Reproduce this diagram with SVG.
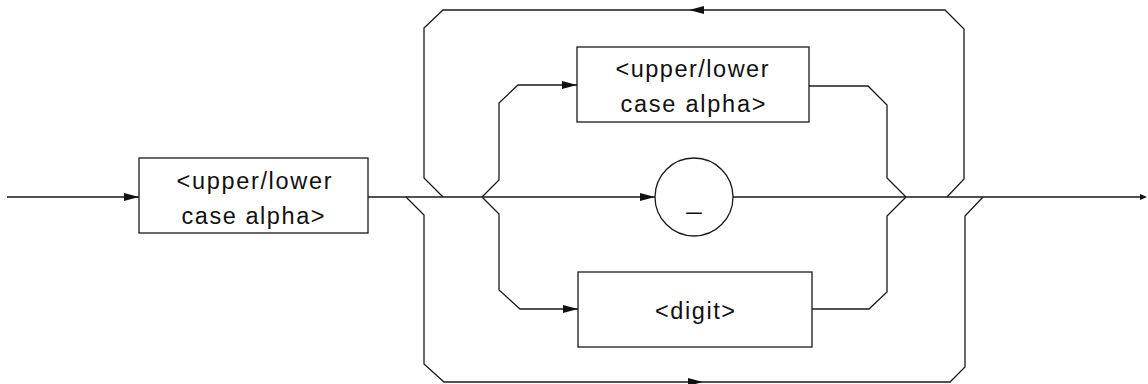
<svg xmlns="http://www.w3.org/2000/svg" width="1148" height="384" viewBox="0 0 1148 384">
<style>
.ln{fill:none;stroke:#1a1a1a;stroke-width:1.3;stroke-linejoin:miter}
.bx{fill:#fff;stroke:#1a1a1a;stroke-width:1.3}
.tx{font-family:"Liberation Sans",Arial,sans-serif;font-size:23.5px;fill:#111;text-anchor:middle}
</style>
<defs>
<marker id="arr" markerUnits="userSpaceOnUse" markerWidth="16" markerHeight="10" refX="15" refY="5" orient="auto">
<path d="M0,1 L15,5 L0,9 z" fill="#111"/>
</marker>
</defs>
<g id="connectors">
<path class="ln" d="M7,197 L139,197" marker-end="url(#arr)"/>
<path class="ln" d="M368,197 L655,197" marker-end="url(#arr)"/>
<path class="ln" d="M733,197 L1144,197"/>
<path d="M1140,194 L1147,197 L1140,200 z" fill="#111"/>
<path class="ln" d="M482,197 L499,180 L499,103 L518,85 L577,85" marker-end="url(#arr)"/>
<path class="ln" d="M482,197 L499,214 L499,290 L520,309 L578,309" marker-end="url(#arr)"/>
<path class="ln" d="M809,86 L868,86 L887,105 L887,178 L906,197"/>
<path class="ln" d="M812,309 L869,309 L887,292 L887,216 L906,197"/>
<path class="ln" d="M947,197 L964,179 L964,29 L945,10 L689,10" marker-end="url(#arr)"/>
<path class="ln" d="M689,10 L443,10 L424,28 L424,178 L443,197"/>
<path class="ln" d="M406,197 L424,215 L424,364 L444,382 L703,382" marker-end="url(#arr)"/>
<path class="ln" d="M703,382 L950,382 L965,367 L965,216 L983,197"/>
</g>
<g id="node-alpha1">
<rect class="bx" x="139" y="158" width="229" height="75"/>
<text class="tx" x="254" y="189" textLength="155" lengthAdjust="spacing">&lt;upper/lower</text>
<text class="tx" x="253" y="224" textLength="143" lengthAdjust="spacing">case alpha&gt;</text>
</g>
<g id="node-alpha2">
<rect class="bx" x="577" y="47" width="232" height="75"/>
<text class="tx" x="692" y="77" textLength="153" lengthAdjust="spacing">&lt;upper/lower</text>
<text class="tx" x="693" y="112" textLength="145" lengthAdjust="spacing">case alpha&gt;</text>
</g>
<g id="node-underscore">
<circle class="bx" cx="694" cy="197" r="39"/>
<text class="tx" x="694" y="209" textLength="15" lengthAdjust="spacingAndGlyphs">_</text>
</g>
<g id="node-digit">
<rect class="bx" x="578" y="272" width="234" height="75"/>
<text class="tx" x="695" y="319" textLength="80" lengthAdjust="spacing">&lt;digit&gt;</text>
</g>
</svg>
